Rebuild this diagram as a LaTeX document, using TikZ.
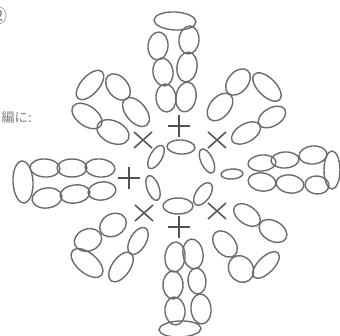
\documentclass[tikz,border=0pt]{standalone}
\usepackage{fontspec}
\newfontfamily\cjk{Noto Sans CJK JP}
\tikzset{
  loopring/.style={draw=black!58,line width=1.05pt},
  stitch/.style={draw=black!68,line width=1.15pt},
  captext/.style={text=black!50,inner sep=0pt,font=\cjk\fontsize{10}{10}\selectfont},
  capmark/.style={text=black!50,inner sep=0pt,font=\cjk\fontsize{15}{15}\selectfont}
}
\newcommand{\ov}[5]{\draw[loopring,rotate around={#5:(#1,-#2)}] (#1,-#2) ellipse ({#3+1} and {#4+1});}
\newcommand{\plusm}[2]{\draw[stitch] (#1-11,-#2) -- (#1+11,-#2) (#1,-#2+11) -- (#1,-#2-11);}
\newcommand{\crossm}[2]{\draw[stitch] (#1-9,-#2-8) -- (#1+9,-#2+8) (#1-9,-#2+8) -- (#1+9,-#2-8);}
\begin{document}
\begin{tikzpicture}[x=0.75pt,y=0.75pt]
\useasboundingbox (0,0) rectangle (340,-336);
\clip (0,0) rectangle (340,-336);
% top petal
\ov{175}{21}{20}{8}{-3}
\ov{158}{46}{9}{13}{-5}
\ov{163}{72}{9}{13}{8}
\ov{166}{98}{9}{13}{5}
\ov{189}{40}{9}{13}{-5}
\ov{187}{67}{9}{14}{-8}
\ov{186}{97}{9}{14}{-10}
% top-left petal
\ov{90}{85}{17}{8}{48}
\ov{118}{87}{14}{9}{-50}
\ov{136}{112}{16}{9}{-50}
\ov{87}{116}{16}{9}{-35}
\ov{113}{132}{16}{10}{-25}
% top-right petal
\ov{238}{82}{14}{9}{50}
\ov{220}{107}{15}{9}{50}
\ov{267}{87}{17}{8}{-45}
\ov{272}{117}{14}{8}{30}
\ov{246}{133}{15}{8}{30}
% right petal
\ov{262}{163}{13}{7}{5}
\ov{285}{160}{13}{7}{3}
\ov{313}{155}{13}{8}{5}
\ov{262}{182}{13}{8}{-8}
\ov{290}{184}{13}{8}{-8}
\ov{317}{185}{11}{8}{-5}
\ov{332}{170}{7}{18}{0}
% bottom-right petal
\ov{247}{215}{14}{8}{-35}
\ov{273}{231}{14}{9}{-30}
\ov{225}{244}{14}{9}{-50}
\ov{241}{269}{13}{11}{-55}
\ov{266}{265}{16}{7}{45}
% bottom petal
\ov{193}{254}{9}{14}{8}
\ov{197}{281}{8}{12}{5}
\ov{201}{309}{9}{14}{5}
\ov{175}{257}{9}{14}{-5}
\ov{173}{285}{9}{13}{0}
\ov{175}{311}{9}{13}{5}
\ov{180}{329}{20}{7}{2}
% bottom-left petal
\ov{113}{225}{13}{10}{30}
\ov{88}{240}{13}{10}{20}
\ov{87}{263}{18}{9}{-40}
\ov{138}{241}{14}{7}{60}
\ov{121}{267}{16}{8}{55}
% left petal
\ov{23}{182}{9}{20}{3}
\ov{45}{168}{14}{8}{-3}
\ov{72}{168}{14}{8}{0}
\ov{100}{168}{14}{8}{-5}
\ov{47}{198}{14}{9}{8}
\ov{75}{194}{14}{8}{8}
\ov{102}{191}{13}{8}{8}
% centre ring
\ov{181}{147}{13}{6}{-3}
\ov{207}{161}{5}{12}{25}
\ov{232}{174}{10}{4}{3}
\ov{203}{194}{6}{12}{-35}
\ov{178}{206}{14}{7}{0}
\ov{153}{188}{5}{12}{20}
\ov{156}{157}{5}{12}{-30}
% stitches
\plusm{179}{126}
\plusm{129}{178}
\plusm{179}{227}
\crossm{143}{140}
\crossm{217}{140}
\crossm{144}{213}
\crossm{217}{211}
% cut-off text
\node[captext,anchor=east] (capa) at (32,-117) {編に:};
\node[capmark,anchor=east] (capb) at (8,-16) {⑫};
\end{tikzpicture}
\end{document}
